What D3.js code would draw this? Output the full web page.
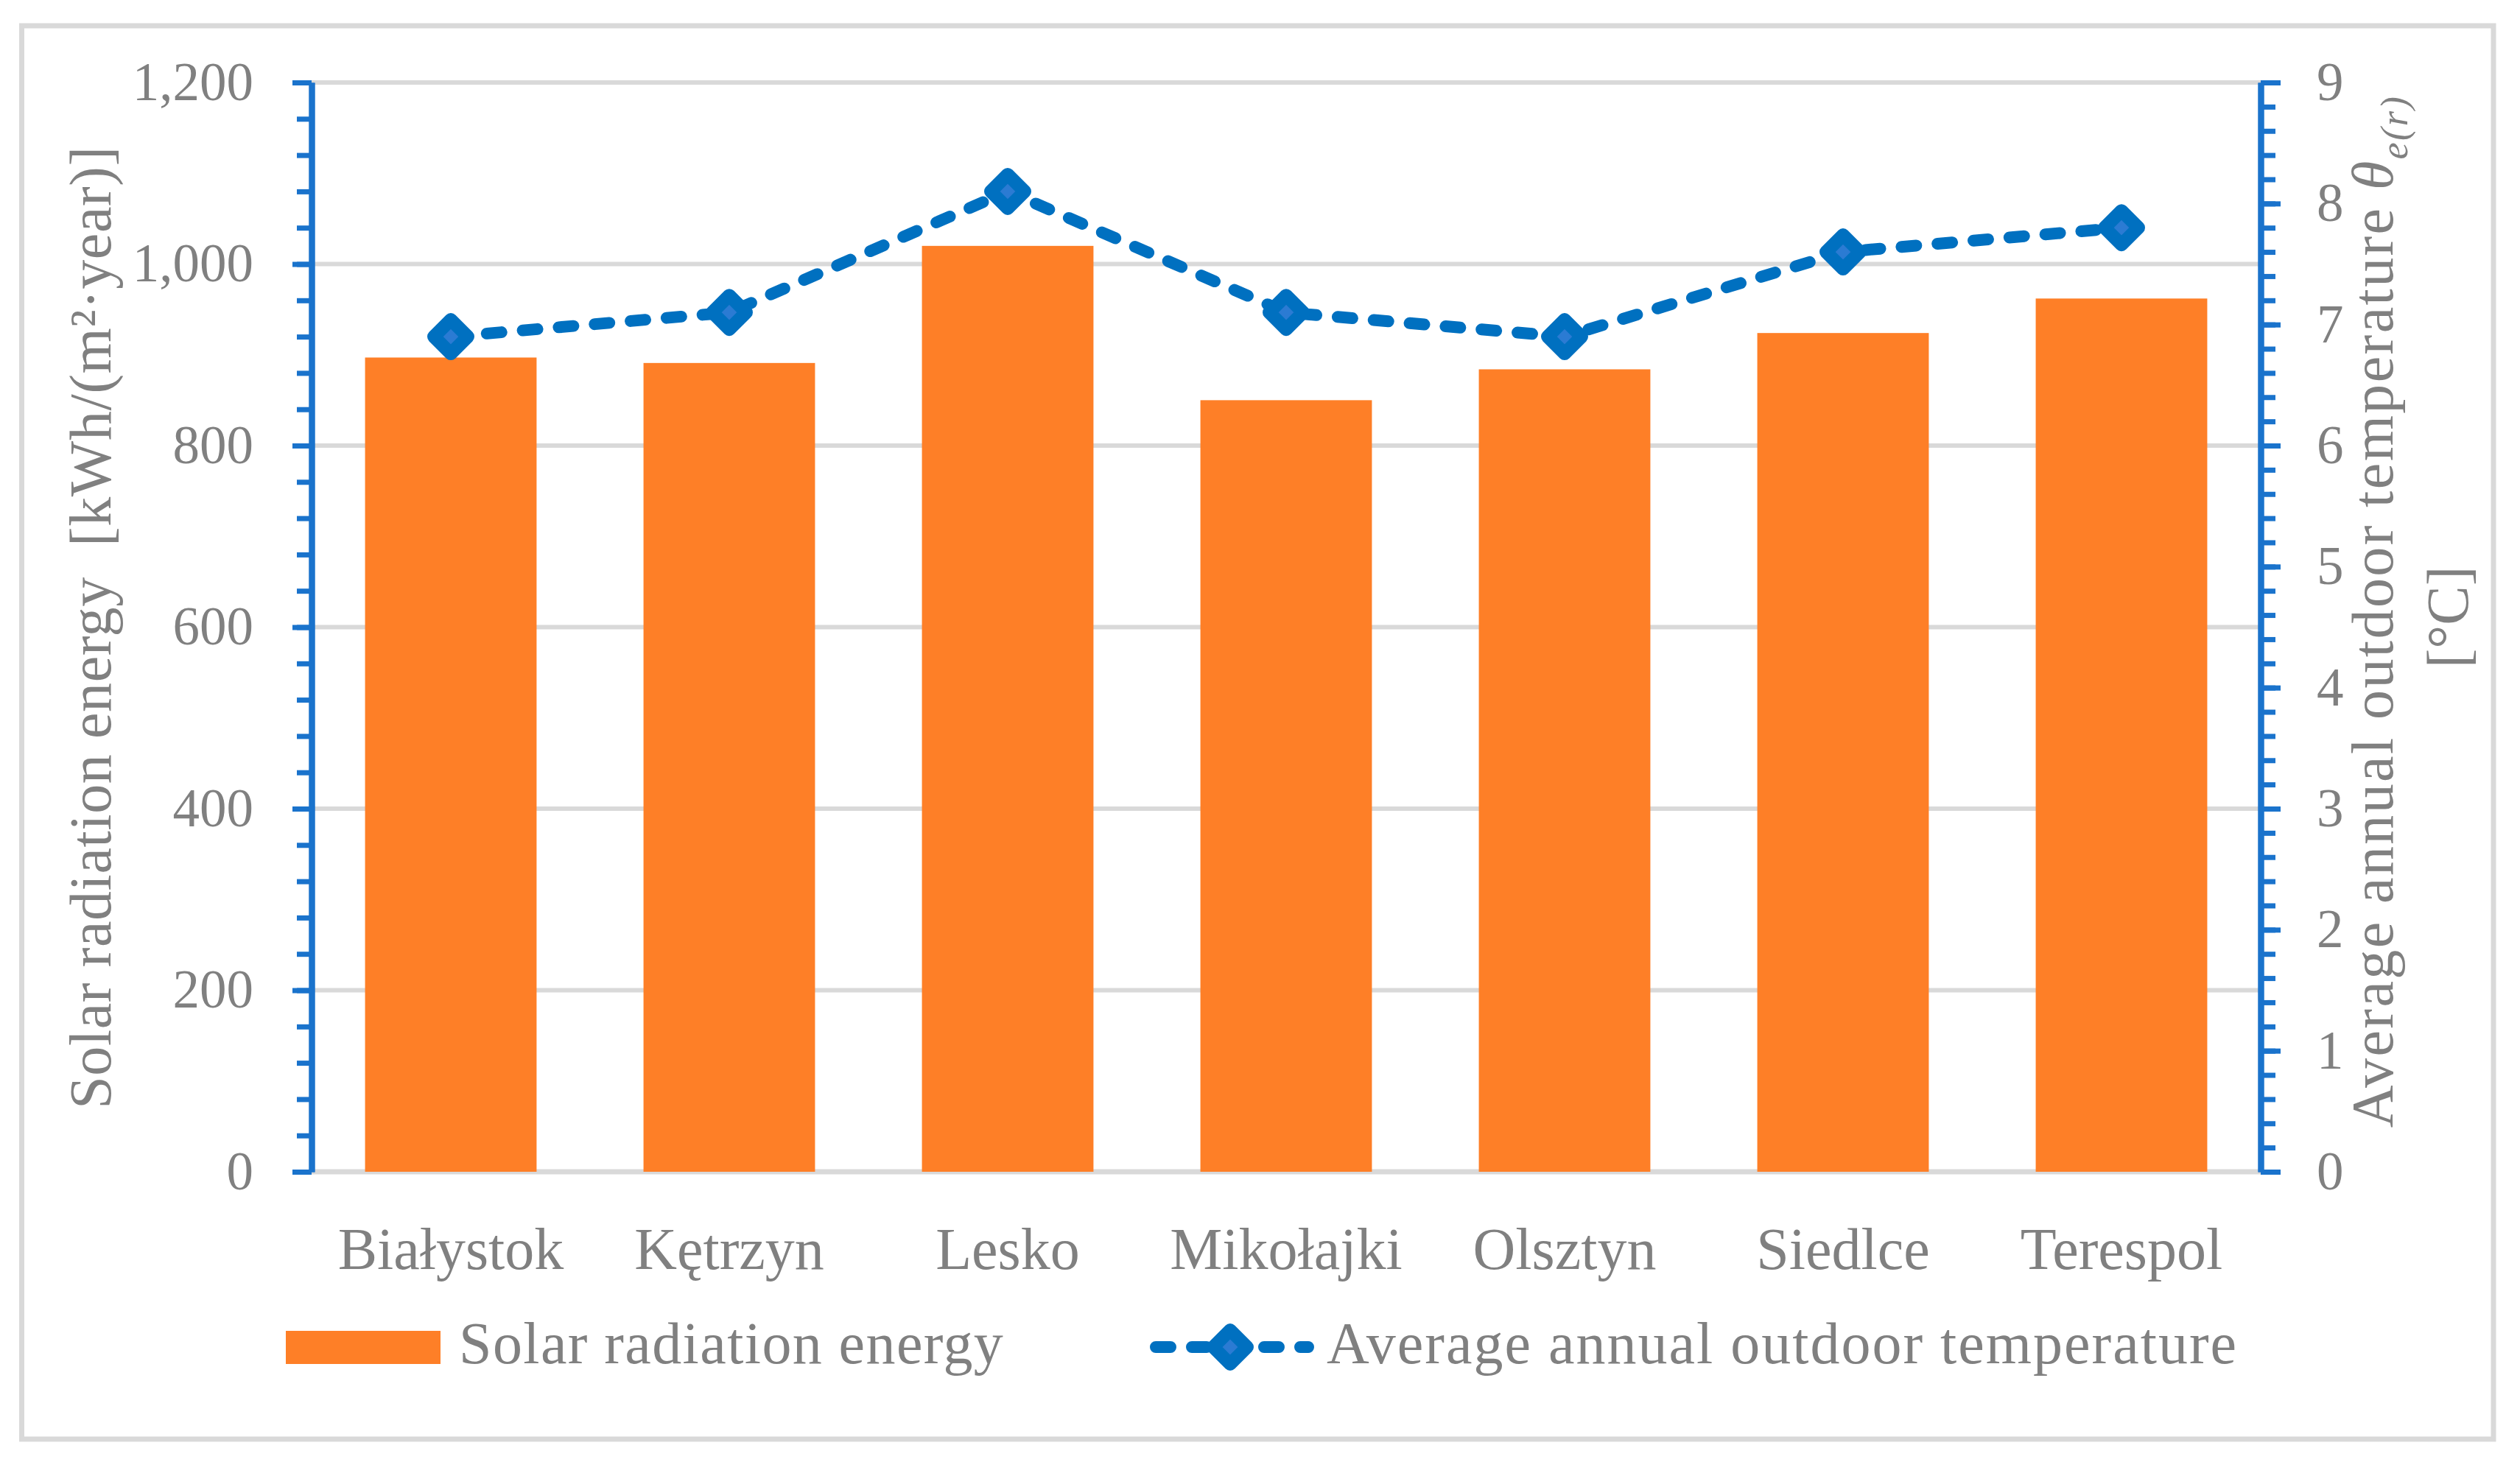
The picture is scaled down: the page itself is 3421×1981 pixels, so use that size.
<!DOCTYPE html>
<html>
<head>
<meta charset="utf-8">
<script src="https://cdn.jsdelivr.net/npm/d3@7"></script>
<style>
  html, body { margin: 0; padding: 0; background: #fff; }
  svg { display: block; }
  text { font-family: "Liberation Serif", "Times New Roman", serif; fill: #808080; }
</style>
</head>
<body>
<svg id="chart"></svg>
<script>
// data
const cities = ["Białystok", "Kętrzyn", "Lesko", "Mikołajki", "Olsztyn", "Siedlce", "Terespol"]
const solarEnergy = [897, 891, 1020, 850, 884, 924, 962] // kWh/(m2·year)
const avgTemp = [6.9, 7.1, 8.1, 7.1, 6.9, 7.6, 7.8] // °C
const leftTicks = [0, 200, 400, 600, 800, 1000, 1200]
const rightTicks = [0, 1, 2, 3, 4, 5, 6, 7, 8, 9]
const legendLabels = ["Solar radiation energy", "Average annual outdoor temperature"]

const width = 3421
const height = 1981
const orange = "#fe7f27"
const blue = "#0070c0"
const axisBlue = "#1a73cc"
const grid = "#d9d9d9"

const plot = { left: 423, right: 3069, top: 112, bottom: 1591 }

const svg = d3.select("#chart").attr("width", width).attr("height", height)

// outer frame
svg.append("rect")
  .attr("x", 29.5).attr("y", 35)
  .attr("width", 3385 - 29.5).attr("height", 1954 - 35)
  .attr("fill", "#fff").attr("stroke", grid).attr("stroke-width", 7)

const x = d3.scaleBand()
  .domain(cities)
  .range([plot.left, plot.right])
  .paddingInner(0.384)
  .paddingOuter(0.192)

const yL = d3.scaleLinear().domain([0, 1200]).range([plot.bottom, plot.top])
const yR = d3.scaleLinear().domain([0, 9]).range([plot.bottom, plot.top])

// gridlines
svg.append("g")
  .selectAll("line")
  .data(leftTicks)
  .join("line")
  .attr("x1", plot.left).attr("x2", plot.right)
  .attr("y1", (d) => yL(d)).attr("y2", (d) => yL(d))
  .attr("stroke", grid)
  .attr("stroke-width", (d) => (d === 0 ? 7 : 6))

// bars
svg.append("g")
  .selectAll("rect")
  .data(cities)
  .join("rect")
  .attr("x", (d) => x(d))
  .attr("width", x.bandwidth())
  .attr("y", (d, i) => yL(solarEnergy[i]))
  .attr("height", (d, i) => yL(0) - yL(solarEnergy[i]))
  .attr("fill", orange)

// axes: minor ticks first, then major ticks with labels
function styleAxis(g) {
  g.select(".domain").attr("stroke", axisBlue).attr("stroke-width", 8)
  g.selectAll(".tick line").attr("stroke", axisBlue).attr("stroke-width", 7)
  g.selectAll(".tick text")
    .style("font-family", '"Liberation Serif", serif')
    .attr("font-size", 73).attr("fill", "#808080")
}

svg.append("g")
  .attr("transform", `translate(${plot.left},0)`)
  .call(d3.axisLeft(yL).tickValues(d3.range(0, 1201, 40)).tickSize(20).tickSizeOuter(0).tickFormat(""))
  .call(styleAxis)
svg.append("g")
  .attr("transform", `translate(${plot.left},0)`)
  .call(d3.axisLeft(yL).tickValues(leftTicks).tickSize(26).tickSizeOuter(0).tickPadding(53).tickFormat(d3.format(",")))
  .call(styleAxis)

svg.append("g")
  .attr("transform", `translate(${plot.right},0)`)
  .call(d3.axisRight(yR).tickValues(d3.range(0, 9.01, 0.2)).tickSize(20).tickSizeOuter(0).tickFormat(""))
  .call(styleAxis)
svg.append("g")
  .attr("transform", `translate(${plot.right},0)`)
  .call(d3.axisRight(yR).tickValues(rightTicks).tickSize(27).tickSizeOuter(0).tickPadding(49).tickFormat(d3.format("d")))
  .call(styleAxis)

// temperature line
const cx = (d) => x(d) + x.bandwidth() / 2
const line = d3.line()
  .x((d, i) => cx(cities[i]))
  .y((d) => yR(d))

svg.append("path")
  .datum(avgTemp)
  .attr("d", line)
  .attr("fill", "none")
  .attr("stroke", blue)
  .attr("stroke-width", 16)
  .attr("stroke-dasharray", "20 29")
  .attr("stroke-linecap", "round")

const diamond = "M0,-23L23,0L0,23L-23,0Z"
function drawMarker(sel) {
  sel.attr("d", diamond)
    .attr("fill", "#2b7bd3")
    .attr("stroke", blue)
    .attr("stroke-width", 18)
    .attr("stroke-linejoin", "round")
}

svg.append("g")
  .selectAll("path")
  .data(avgTemp)
  .join("path")
  .attr("transform", (d, i) => `translate(${cx(cities[i])},${yR(d)})`)
  .call(drawMarker)

// category labels
svg.append("g")
  .selectAll("text")
  .data(cities)
  .join("text")
  .attr("x", (d) => cx(d))
  .attr("y", 1723)
  .attr("text-anchor", "middle")
  .attr("font-size", 80)
  .text((d) => d)

// axis titles (keep the double space before the unit)
svg.append("text")
  .attr("transform", "translate(150,852) rotate(-90)")
  .attr("text-anchor", "middle")
  .attr("font-size", 80)
  .attr("letter-spacing", 0.6)
  .style("white-space", "pre")
  .text("Solar radiation energy  [kWh/(m²·year)]")

const rt = svg.append("text")
  .attr("transform", "translate(3248,830) rotate(-90)")
  .attr("text-anchor", "middle")
  .attr("font-size", 80)
  .attr("letter-spacing", 2.4)
rt.append("tspan").text("Average annual outdoor temperature ")
rt.append("tspan").attr("font-style", "italic").text("θ")
rt.append("tspan").attr("font-style", "italic").attr("font-size", 52).attr("dy", 20).text("e(r)")

svg.append("text")
  .attr("transform", "translate(3350,838) rotate(-90)")
  .attr("text-anchor", "middle")
  .attr("font-size", 80)
  .text("[°C]")

// legend
const legend = svg.append("g")
legend.append("rect")
  .attr("x", 388).attr("y", 1807)
  .attr("width", 210).attr("height", 45)
  .attr("fill", orange)
legend.append("text")
  .attr("x", 623).attr("y", 1851)
  .attr("font-size", 80)
  .attr("letter-spacing", 1.4)
  .text(legendLabels[0])

legend.append("line")
  .attr("x1", 1569).attr("x2", 1776)
  .attr("y1", 1829).attr("y2", 1829)
  .attr("stroke", blue)
  .attr("stroke-width", 16)
  .attr("stroke-dasharray", "20 29")
  .attr("stroke-linecap", "round")
legend.append("path")
  .attr("transform", "translate(1670,1829)")
  .call(drawMarker)
legend.append("text")
  .attr("x", 1801).attr("y", 1851)
  .attr("font-size", 80)
  .attr("letter-spacing", 2)
  .text(legendLabels[1])
</script>
</body>
</html>
